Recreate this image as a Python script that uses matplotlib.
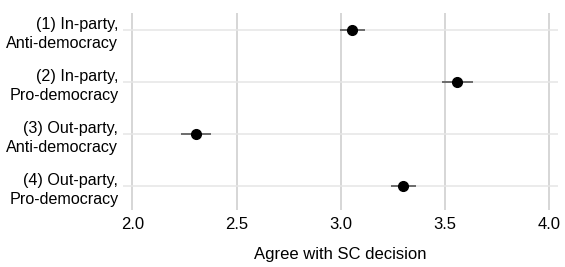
import matplotlib.pyplot as plt

plt.rcParams['font.family'] = ['Liberation Sans', 'DejaVu Sans']

labels = ['(1) In-party,\nAnti-democracy', '(2) In-party,\nPro-democracy',
          '(3) Out-party,\nAnti-democracy', '(4) Out-party,\nPro-democracy']
estimates = [3.055, 3.559, 2.305, 3.299]
errors = [0.06, 0.073, 0.07, 0.06]
xticks = [2.0, 2.5, 3.0, 3.5, 4.0]

fig = plt.figure(figsize=(5.65, 2.67), dpi=100)
ax = fig.add_axes([0.217, 0.2135, 0.771, 0.7375])

ypos = list(range(1, len(labels) + 1))
ax.errorbar(estimates, ypos, xerr=errors, fmt='o', color='black', ecolor='#555555',
            elinewidth=1.2, markersize=7, capsize=0, zorder=3)

ax.set_xlim(1.953, 4.043)
ax.set_ylim(4.46, 0.67)
ax.set_xticks(xticks)
ax.set_xticklabels([f'{v:.1f}' for v in xticks], fontsize=12)
ax.set_yticks(ypos)
ax.set_yticklabels(labels, fontsize=11.6, linespacing=1.35)
ax.tick_params(axis='y', length=0, pad=3)
ax.tick_params(axis='x', length=0, pad=5)
ax.set_xlabel('Agree with SC decision', fontsize=12, labelpad=11)

ax.grid(axis='x', color='#cccccc', linewidth=1.1)
ax.grid(axis='y', color='#e6e6e6', linewidth=1.1)
ax.set_axisbelow(True)
for s in ax.spines.values():
    s.set_visible(False)

fig.savefig('out.png', dpi=100)
